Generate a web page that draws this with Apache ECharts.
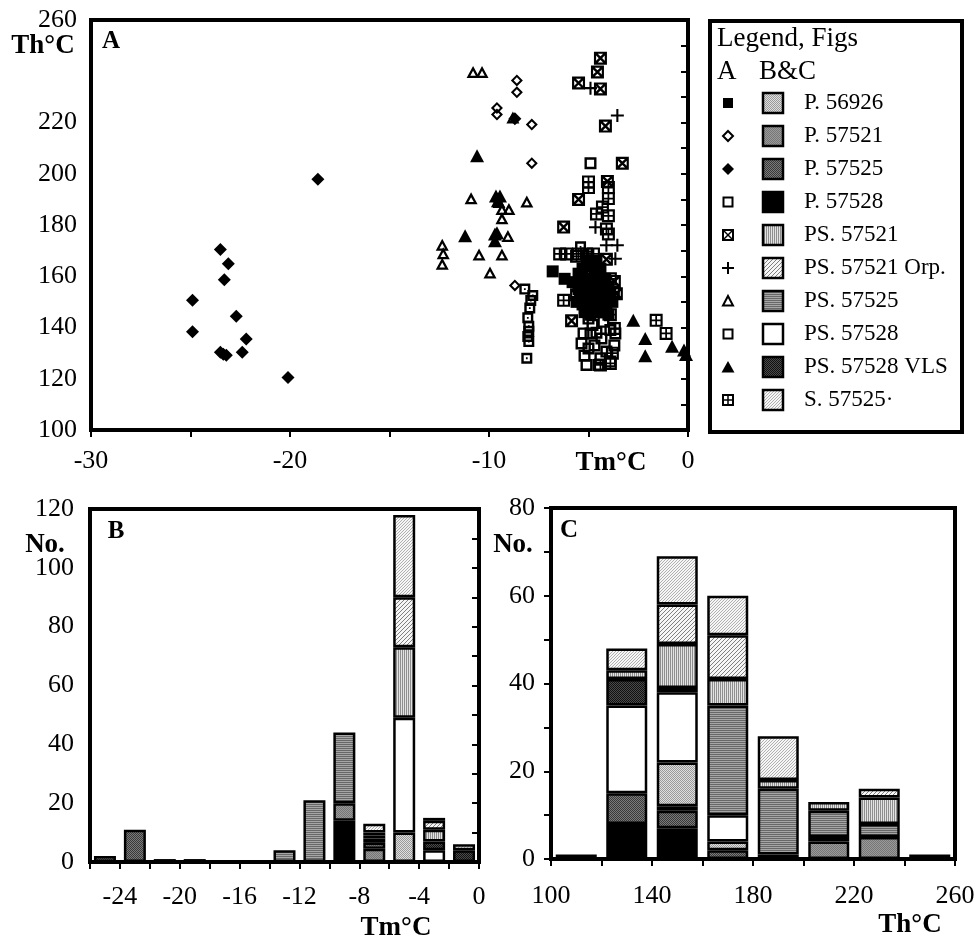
<!DOCTYPE html>
<html>
<head>
<meta charset="utf-8">
<script src="https://cdn.jsdelivr.net/npm/echarts@6/dist/echarts.min.js"></script>
<style>html,body{margin:0;background:#fff}#chart{width:976px;height:939px}</style>
</head>
<body>
<div id="chart"></div>
<script>
// samples, in legend order
var samples = ['P. 56926', 'P. 57521', 'P. 57525', 'P. 57528', 'PS. 57521', 'PS. 57521 Orp.', 'PS. 57525', 'PS. 57528', 'PS. 57528 VLS', 'S. 57525·'];

// Fig A : [Tm, Th] per inclusion
var a_P56926 = [[-6.8,161.9],[-6.2,159],[-5.8,157.7],[-5.5,161],[-5.3,163],[-5.0,164],[-4.7,162],[-4.4,163],[-5.4,158],[-5.1,159],[-4.8,158],[-4.5,158],[-4.2,159],[-5.5,155],[-5.2,155],[-4.9,154],[-4.6,155],[-4.3,155],[-4.0,156],[-5.4,152],[-5.1,151],[-4.8,151],[-4.5,152],[-4.2,152],[-3.9,153],[-5.3,149],[-5.0,148],[-4.7,148],[-4.4,149],[-4.1,149],[-5.2,146],[-4.9,145],[-4.6,146],[-4.3,146],[-5.6,150],[-5.0,166],[-4.6,166],[-3.8,150],[-4.0,145]];
var a_P57521 = [[-8.6,236.4],[-8.6,231.8],[-9.6,225.7],[-9.6,223.1],[-7.85,219.2],[-7.85,204.1],[-8.7,156.4]];
var a_P57525 = [[-18.6,197.9],[-23.5,170.4],[-23.1,164.9],[-23.3,158.6],[-24.9,150.6],[-22.7,144.4],[-24.9,138.3],[-22.2,135.5],[-23.5,130.3],[-23.2,129.2],[-23.35,129.6],[-22.4,130.3],[-20.1,120.5],[-8.7,221.5]];
var a_P57528 = [[-8.2,155],[-7.8,152.5],[-7.9,150.5],[-7.95,147.6],[-8.05,143.8],[-8.0,140.5],[-8.0,138.5],[-8.05,136.5],[-8.0,134.5],[-8.1,128],[-5.4,171.5]];
var a_PS57521 = [[-4.4,245.1],[-4.55,239.7],[-5.5,235.4],[-4.4,233.1],[-4.15,218.6],[-3.3,204.1],[-4.05,197],[-5.5,190],[-6.25,179.2],[-5.85,142.6],[-4.1,166.6],[-5.6,152.8],[-3.6,153.2],[-3.7,158]];
var a_PS57521orp = [[-4.9,233.4],[-3.55,222.7],[-4.65,179.1],[-4.1,172.1],[-3.55,172.1],[-3.65,166.8]];
var a_PS57525 = [[-10.8,239.7],[-10.35,239.7],[-10.9,190.4],[-9.35,186.2],[-9.0,186.2],[-9.35,182.6],[-8.1,189.2],[-9.05,175.7],[-10.5,168.5],[-9.35,168.5],[-9.95,161.5],[-12.35,172.3],[-12.3,169],[-12.35,164.9],[-9.5,189],[-8.8,222]];
var a_PS57528 = [[-4.9,204.1],[-5.0,143.5],[-5.25,137.7],[-4.9,137.7],[-4.6,138],[-5.35,133.8],[-5.0,131.8],[-5.1,125.4],[-4.5,125.4],[-3.9,126.7],[-4.1,130.6],[-3.9,139],[-3.65,137.7],[-4.35,135.7],[-4.25,142.2],[-4.7,133],[-4.4,128],[-3.7,133],[-5.2,129],[-4.8,141]];
var a_PS57528vls = [[-10.6,207],[-9.65,191.3],[-9.45,191.3],[-9.55,189.5],[-11.2,175.8],[-9.7,176.5],[-9.6,177],[-9.7,173.9],[-2.75,142.8],[-2.15,135.7],[-2.15,129],[-0.8,132.7],[-0.2,131.2],[-0.1,129.5]];
var a_S57525 = [[-1.6,142.8],[-1.1,137.7],[-6.25,150.6],[-5.0,196.8],[-5.0,194.6],[-4.0,194.6],[-4.0,190.3],[-4.6,184.3],[-4.0,183.6],[-4.1,178.4],[-4.0,176.5],[-6.45,168.7],[-6.1,168.7],[-5.5,168.7],[-5.1,168.7],[-4.75,168.7],[-5.6,167.8],[-5.05,167.5],[-3.9,159],[-3.75,153.9],[-3.7,139.6],[-4.4,125.4],[-3.9,126],[-3.9,145],[-3.8,130],[-4.3,187]];

// Fig B : Tm histogram, bin centres (2 °C bins)
var binsB = [-25, -23, -21, -19, -17, -15, -13, -11, -9, -7, -5, -3, -1];
var b_P56926    = [null,null,null,null,null,null,null,null,null,2,10,null,null];
var b_P57521    = [null,null,null,null,null,null,null,null,6,4.5,null,null,null];
var b_P57525    = [2,11,1,1,null,null,null,null,null,null,null,null,null];
var b_P57528    = [null,null,null,null,null,null,null,null,14,null,null,null,null];
var b_PS57521   = [null,null,null,null,null,null,null,null,null,1,24,4,null];
var b_PS57521orp= [null,null,null,null,null,null,null,null,null,null,17,3,null];
var b_PS57525   = [null,null,null,null,null,null,4,21,24,null,null,null,null];
var b_PS57528   = [null,null,null,null,null,null,null,null,null,1.5,39,4,null];
var b_PS57528vls= [null,null,null,null,null,null,null,null,null,1,null,3,4];
var b_S57525    = [null,null,null,null,null,null,null,null,null,3,28,1,2];

// Fig C : Th histogram, bin centres (20 °C bins)
var binsC = [110, 130, 150, 170, 190, 210, 230, 250];
var c_P56926    = [null,null,10,2,null,null,null,1];
var c_P57521    = [null,null,1,null,null,4,5,null];
var c_P57525    = [1,7,4,2,1,null,null,null];
var c_P57528    = [null,8,7,null,null,null,null,null];
var c_PS57521   = [null,2,10,6,2,2,6,null];
var c_PS57521orp= [null,null,9,10,null,null,2,null];
var c_PS57525   = [null,null,null,25,15,6,3,null];
var c_PS57528   = [null,20,16,6,null,1,null,null];
var c_PS57528vls= [null,6,1,null,null,null,null,null];
var c_S57525    = [null,5,11,9,10,null,null,null];

var scatterData = [a_P56926, a_P57521, a_P57525, a_P57528, a_PS57521, a_PS57521orp, a_PS57525, a_PS57528, a_PS57528vls, a_S57525];
var histB = [b_P56926, b_P57521, b_P57525, b_P57528, b_PS57521, b_PS57521orp, b_PS57525, b_PS57528, b_PS57528vls, b_S57525];
var histC = [c_P56926, c_P57521, c_P57525, c_P57528, c_PS57521, c_PS57521orp, c_PS57525, c_PS57528, c_PS57528vls, c_S57525];
// bottom-to-top order of the stacks
var stackOrder = [3, 2, 1, 0, 7, 6, 8, 4, 5, 9];

var FONT = 'Liberation Serif';

function pat(w, h, draw) {
  var c = document.createElement('canvas');
  c.width = w; c.height = h;
  draw(c.getContext('2d'));
  return { image: c, repeat: 'repeat' };
}
function px(g, col, pts) { g.fillStyle = col; pts.forEach(function (p) { g.fillRect(p[0], p[1], 1, 1); }); }

var fills = [
  pat(2, 2, function (g) { g.fillStyle = '#dedede'; g.fillRect(0, 0, 2, 2); px(g, '#9a9a9a', [[0,0],[1,1]]); }),
  pat(2, 2, function (g) { g.fillStyle = '#9a9a9a'; g.fillRect(0, 0, 2, 2); px(g, '#767676', [[0,0],[1,1]]); }),
  pat(2, 2, function (g) { g.fillStyle = '#7a7a7a'; g.fillRect(0, 0, 2, 2); px(g, '#3a3a3a', [[0,0],[1,1]]); }),
  '#000',
  pat(2, 1, function (g) { g.fillStyle = '#e2e2e2'; g.fillRect(0, 0, 2, 1); px(g, '#8e8e8e', [[0,0]]); }),
  pat(4, 4, function (g) { g.fillStyle = '#f6f6f6'; g.fillRect(0, 0, 4, 4); px(g, '#808080', [[0,3],[1,2],[2,1],[3,0]]); }),
  pat(1, 2, function (g) { g.fillStyle = '#a6a6a6'; g.fillRect(0, 0, 1, 2); px(g, '#686868', [[0,0]]); }),
  '#fff',
  pat(2, 2, function (g) { g.fillStyle = '#4a4a4a'; g.fillRect(0, 0, 2, 2); px(g, '#111', [[0,0],[1,1]]); }),
  pat(3, 3, function (g) { g.fillStyle = '#f6f6f6'; g.fillRect(0, 0, 3, 3); px(g, '#b0b0b0', [[0,0],[2,1],[1,2]]); })
];

var symPaths = [
  'M0,0H10V10H0Z',
  'M5,0L10,5L5,10L0,5Z M5,2.4L2.4,5L5,7.6L7.6,5Z',
  'M5,0L10,5L5,10L0,5Z',
  'M0,0H10V10H0Z M2.2,2.2V7.8H7.8V2.2Z M4.2,4.2H5.8V5.8H4.2Z',
  'M0,0H12V12H0Z M2,2V10H10V2Z M2,2H3.6L10,8.4V10H8.4L2,3.6Z M10,2V3.6L3.6,10H2V8.4L8.4,2Z',
  'M4.2,0H5.8V4.2H10V5.8H5.8V10H4.2V5.8H0V4.2H4.2Z',
  'M5,0L10,9L0,9Z M5,3.6L2.9,7.3L7.1,7.3Z',
  'M0,0H10V10H0Z M2,2V8H8V2Z',
  'M5,0L10,9L0,9Z',
  'M0,0H12V12H0Z M2,2V10H10V2Z M5.2,2H6.8V10H5.2Z M2,5.2H10V6.8H2Z'
];
var symSizes = [[12,12],[12,12],[13,13],[11,11],[13,13],[13,13],[13,12],[12,12],[14,13],[13,13]];
var drawOrder = [1, 2, 3, 6, 8, 7, 4, 5, 9, 0];

var series = [];
drawOrder.forEach(function (i) {
  series.push({
    name: samples[i], type: 'scatter', xAxisIndex: 0, yAxisIndex: 0,
    symbol: 'path://' + symPaths[i], symbolSize: symSizes[i],
    itemStyle: { color: '#000', opacity: 1 },
    data: scatterData[i]
  });
});
stackOrder.forEach(function (i) {
  series.push({
    name: samples[i], type: 'bar', stack: 'B', xAxisIndex: 1, yAxisIndex: 1, barWidth: 22,
    itemStyle: { color: fills[i], borderColor: '#000', borderWidth: 2.5 },
    data: histB[i]
  });
  series.push({
    name: samples[i], type: 'bar', stack: 'C', xAxisIndex: 3, yAxisIndex: 2, barWidth: 41,
    itemStyle: { color: fills[i], borderColor: '#000', borderWidth: 2.5 },
    data: histC[i]
  });
});

function lbl(fmt, margin) {
  return { formatter: fmt, margin: margin, color: '#000', fontFamily: FONT, fontSize: 26,
    showMinLabel: true, showMaxLabel: true, hideOverlap: false };
}
var axLine = { lineStyle: { color: '#000', width: 4 } };
var axTick = { length: 7, lineStyle: { color: '#000', width: 2 } };
var gridBox = { show: true, borderColor: '#000', borderWidth: 4, backgroundColor: '#fff', outerBoundsMode: 'none', containLabel: false };

function txt(s, x, y, font, align) {
  return { type: 'text', style: { text: s, x: x, y: y, font: font, fill: '#000', textAlign: align || 'left', textVerticalAlign: 'middle', verticalAlign: 'middle' } };
}
// legend glyphs for Fig A, built from plain shapes
function legendGlyph(i, cx, cy) {
  var k = '#000', W = '#fff';
  var out = { fill: W, stroke: k, lineWidth: 2 };
  switch (i) {
    case 0: return [{ type: 'rect', shape: { x: cx - 5, y: cy - 5, width: 10, height: 10 }, style: { fill: k } }];
    case 1: return [{ type: 'polygon', shape: { points: [[cx, cy - 5], [cx + 5, cy], [cx, cy + 5], [cx - 5, cy]] }, style: out }];
    case 2: return [{ type: 'polygon', shape: { points: [[cx, cy - 6], [cx + 6, cy], [cx, cy + 6], [cx - 6, cy]] }, style: { fill: k } }];
    case 3: return [{ type: 'rect', shape: { x: cx - 4.5, y: cy - 4.5, width: 9, height: 9 }, style: out }];
    case 4: return [{ type: 'rect', shape: { x: cx - 5, y: cy - 5, width: 10, height: 10 }, style: out },
      { type: 'line', shape: { x1: cx - 4, y1: cy - 4, x2: cx + 4, y2: cy + 4 }, style: { stroke: k, lineWidth: 1.5 } },
      { type: 'line', shape: { x1: cx + 4, y1: cy - 4, x2: cx - 4, y2: cy + 4 }, style: { stroke: k, lineWidth: 1.5 } }];
    case 5: return [{ type: 'line', shape: { x1: cx - 6, y1: cy, x2: cx + 6, y2: cy }, style: { stroke: k, lineWidth: 2 } },
      { type: 'line', shape: { x1: cx, y1: cy - 6, x2: cx, y2: cy + 6 }, style: { stroke: k, lineWidth: 2 } }];
    case 6: return [{ type: 'polygon', shape: { points: [[cx, cy - 5], [cx + 5, cy + 4.5], [cx - 5, cy + 4.5]] }, style: out }];
    case 7: return [{ type: 'rect', shape: { x: cx - 4.5, y: cy - 4.5, width: 9, height: 9 }, style: out }];
    case 8: return [{ type: 'polygon', shape: { points: [[cx, cy - 6], [cx + 6.5, cy + 5.5], [cx - 6.5, cy + 5.5]] }, style: { fill: k } }];
    default: return [{ type: 'rect', shape: { x: cx - 5, y: cy - 5, width: 10, height: 10 }, style: out },
      { type: 'line', shape: { x1: cx - 5, y1: cy, x2: cx + 5, y2: cy }, style: { stroke: k, lineWidth: 1.5 } },
      { type: 'line', shape: { x1: cx, y1: cy - 5, x2: cx, y2: cy + 5 }, style: { stroke: k, lineWidth: 1.5 } }];
  }
}

var FH = '27px "Liberation Serif"', FR = '23px "Liberation Serif"', FB = 'bold 27px "Liberation Serif"', FL = 'bold 25px "Liberation Serif"';
var graphics = [
  { type: 'rect', shape: { x: 710, y: 21, width: 252, height: 411 }, style: { fill: '#fff', stroke: '#000', lineWidth: 4 } },
  txt('Legend, Figs', 717, 39, FH),
  txt('A', 717, 72, FH),
  txt('B&C', 759, 72, FH),
  txt('A', 111, 42, FL, 'center'),
  txt('B', 116, 532, FL, 'center'),
  txt('C', 569, 531, FL, 'center'),
  txt('Th°C', 43, 46, FB, 'center'),
  txt('No.', 45, 545, FB, 'center'),
  txt('No.', 513, 545, FB, 'center'),
  txt('Tm°C', 611, 463, FB, 'center'),
  txt('Tm°C', 396, 928, FB, 'center'),
  txt('Th°C', 910, 925, FB, 'center')
];
samples.forEach(function (name, i) {
  var yc = 103 + i * 33;
  graphics = graphics.concat(legendGlyph(i, 728, yc));
  graphics.push({ type: 'rect', shape: { x: 763, y: yc - 10, width: 20, height: 20 }, style: { fill: fills[i], stroke: '#000', lineWidth: 2.5 } });
  graphics.push(txt(name, 804, yc, FR));
});

var myChart = echarts.init(document.getElementById('chart'));
var option = {
  backgroundColor: '#fff',
  animation: false,
  grid: [
    Object.assign({ left: 91, top: 20, width: 597, height: 410 }, gridBox),
    Object.assign({ left: 90, top: 509, width: 389, height: 353 }, gridBox),
    Object.assign({ left: 551, top: 508, width: 404, height: 351 }, gridBox)
  ],
  xAxis: [
    { gridIndex: 0, type: 'value', min: -30, max: 0, interval: 5, axisLine: axLine, axisTick: axTick, splitLine: { show: false },
      axisLabel: lbl(function (v) { return v % 10 === 0 ? String(v) : ''; }, 18) },
    { gridIndex: 1, type: 'category', data: binsB, show: false, position: 'top' },
    { gridIndex: 1, type: 'value', min: -26, max: 0, interval: 2, position: 'bottom', axisLine: axLine, axisTick: axTick, splitLine: { show: false },
      axisLabel: lbl(function (v) { return v % 4 === 0 ? String(v) : ''; }, 22) },
    { gridIndex: 2, type: 'category', data: binsC, show: false, position: 'top' },
    { gridIndex: 2, type: 'value', min: 100, max: 260, interval: 20, position: 'bottom', axisLine: axLine, axisTick: axTick, splitLine: { show: false },
      axisLabel: lbl(function (v) { return (v - 100) % 40 === 0 ? String(v) : ''; }, 24) }
  ],
  yAxis: [
    { gridIndex: 0, type: 'value', min: 100, max: 260, interval: 10, axisLine: axLine, axisTick: axTick, splitLine: { show: false },
      axisLabel: lbl(function (v) { return v % 20 === 0 && v !== 240 ? String(v) : ''; }, 14) },
    { gridIndex: 1, type: 'value', min: 0, max: 120, interval: 10, axisLine: axLine, axisTick: axTick, splitLine: { show: false },
      axisLabel: lbl(function (v) { return v % 20 === 0 ? String(v) : ''; }, 16) },
    { gridIndex: 2, type: 'value', min: 0, max: 80, interval: 10, axisLine: axLine, axisTick: axTick, splitLine: { show: false },
      axisLabel: lbl(function (v) { return v % 20 === 0 ? String(v) : ''; }, 16) }
  ],
  graphic: graphics,
  series: series
};
myChart.setOption(option);
</script>
</body>
</html>
